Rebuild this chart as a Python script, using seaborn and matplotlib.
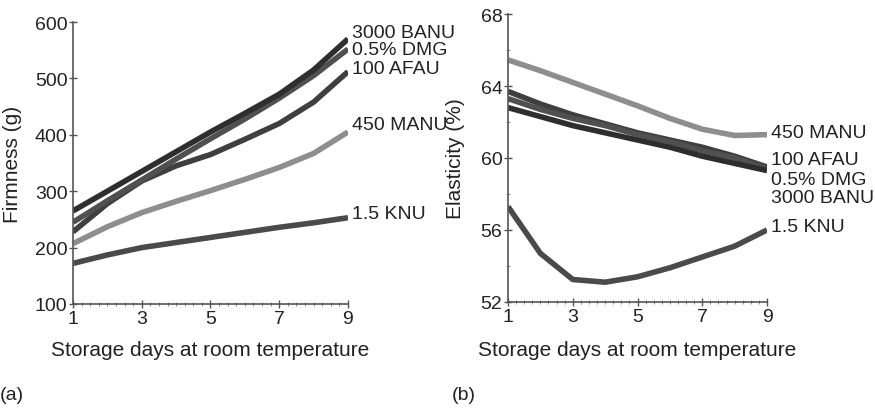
import numpy as np
import pandas as pd
import matplotlib
matplotlib.use("Agg")
import matplotlib.pyplot as plt
from matplotlib.ticker import MultipleLocator
import seaborn as sns

sns.set_theme(style="white")
plt.rcParams['font.family'] = ['Liberation Sans', 'DejaVu Sans']

days = [1, 2, 3, 4, 5, 6, 7, 8, 9]
series = ["3000 BANU", "0.5% DMG", "100 AFAU", "450 MANU", "1.5 KNU"]

firm_banu = [265, 300, 335, 370, 405, 438, 472, 515, 570]
firm_dmg = [245, 283, 320, 357, 393, 428, 465, 505, 552]
firm_afau = [228, 278, 318, 345, 365, 392, 420, 458, 512]
firm_manu = [207, 237, 262, 282, 301, 321, 342, 367, 405]
firm_knu = [172, 187, 200, 209, 218, 227, 236, 244, 253]

elas_banu = [62.8, 62.3, 61.8, 61.4, 61.0, 60.6, 60.1, 59.7, 59.3]
elas_dmg = [63.3, 62.7, 62.2, 61.8, 61.3, 60.9, 60.4, 60.0, 59.4]
elas_afau = [63.7, 63.0, 62.4, 61.9, 61.4, 61.0, 60.6, 60.1, 59.5]
elas_manu = [65.45, 64.85, 64.2, 63.55, 62.9, 62.2, 61.6, 61.25, 61.3]
elas_knu = [57.3, 54.7, 53.25, 53.1, 53.4, 53.9, 54.5, 55.1, 56.0]

firm_label_y = [582, 552, 517, 419, 260]
elas_label_y = [57.83, 58.83, 59.94, 61.44, 56.17]

colors = {"3000 BANU": "#2e2e2e", "0.5% DMG": "#505050", "100 AFAU": "#3f3f3f",
          "450 MANU": "#8e8e8e", "1.5 KNU": "#4a4a4a"}

firm = pd.DataFrame({"day": days * 5,
                     "value": firm_banu + firm_dmg + firm_afau + firm_manu + firm_knu,
                     "series": sum([[s] * 9 for s in series], [])})
elas = pd.DataFrame({"day": days * 5,
                     "value": elas_banu + elas_dmg + elas_afau + elas_manu + elas_knu,
                     "series": sum([[s] * 9 for s in series], [])})

fig = plt.figure(figsize=(8.75, 4.1), dpi=100)
axa = fig.add_axes([0.0834, 0.2561, 0.3143, 0.6878])
axb = fig.add_axes([0.5806, 0.261, 0.296, 0.7024])

order_draw = ["1.5 KNU", "450 MANU", "100 AFAU", "0.5% DMG", "3000 BANU"]

for ax, df, labys, ylab, ylim, yticks, yminor, ylx, xly in [
        (axa, firm, firm_label_y, "Firmness (g)", (100, 600), np.arange(100, 601, 100), None, -0.185, -0.128),
        (axb, elas, elas_label_y, "Elasticity (%)", (52, 68), np.arange(52, 69, 4), 2, -0.166, -0.132)]:
    sns.lineplot(data=df, x="day", y="value", hue="series", hue_order=order_draw,
                 palette=colors, linewidth=4, ax=ax, legend=False,
                 solid_capstyle="butt")
    ax.set_xlim(1, 9)
    ax.set_ylim(*ylim)
    ax.set_xticks([1, 3, 5, 7, 9])
    ax.set_yticks(yticks)
    ax.xaxis.set_minor_locator(MultipleLocator(0.25))
    if yminor:
        ax.yaxis.set_minor_locator(MultipleLocator(yminor))
    ax.set_xlabel("Storage days at room temperature", fontsize=15, color="#222222")
    ax.xaxis.set_label_coords(0.5, xly)
    ax.set_ylabel(ylab, fontsize=15, color="#222222")
    ax.yaxis.set_label_coords(ylx, 0.5)
    for sp in ["top", "right"]:
        ax.spines[sp].set_visible(False)
    for sp in ["left", "bottom"]:
        ax.spines[sp].set_color("#555555")
        ax.spines[sp].set_linewidth(1.2)
    ax.tick_params(axis="both", which="major", direction="inout", length=6, width=1,
                   color="#555555", labelsize=14, labelcolor="#222222", pad=1,
                   bottom=True, left=True)
    ax.tick_params(axis="both", which="minor", direction="inout", length=3, width=0.6,
                   color="#777777", bottom=True, left=True)
    ax.patch.set_alpha(0)
    for s, ly in zip(series, labys):
        ax.text(9.12, ly, s, fontsize=14, color="#222222", va="center", ha="left",
                clip_on=False)

fig.text(0.0, 0.025, "(a)", fontsize=14, color="#222222", ha="left")
fig.text(0.516, 0.025, "(b)", fontsize=14, color="#222222", ha="left")

fig.savefig("out.png", dpi=100)
